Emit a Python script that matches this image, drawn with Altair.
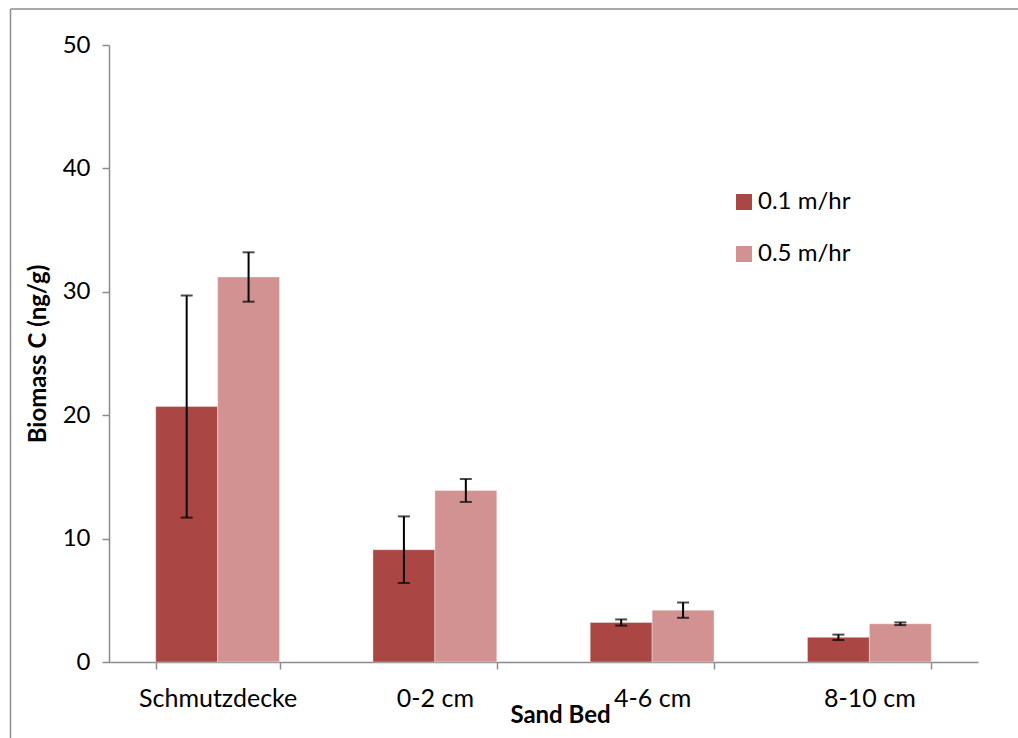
import altair as alt
import pandas as pd

categories = ["Schmutzdecke", "0-2 cm", "4-6 cm", "8-10 cm"]
series = ["0.1 m/hr", "0.5 m/hr"]
values_01 = [20.7, 9.1, 3.2, 2.0]
errors_01 = [9.0, 2.7, 0.25, 0.22]
values_05 = [31.2, 13.9, 4.2, 3.1]
errors_05 = [2.0, 0.93, 0.62, 0.11]
colors = ["#AA4644", "#D39292"]

rows = []
for i, c in enumerate(categories):
    for s, v, e in ((series[0], values_01[i], errors_01[i]), (series[1], values_05[i], errors_05[i])):
        rows.append({"bed": c, "rate": s, "value": v, "lo": v - e, "hi": v + e})
df = pd.DataFrame(rows)

FONT = "Lato"
AX = "#8c8c8c"
FS = 24
TS = 24

x = alt.X("bed:N", sort=categories, title="Sand Bed",
          scale=alt.Scale(paddingInner=0.43, paddingOuter=0.215),
          axis=alt.Axis(labelAngle=0, tickBand="extent", labelFontSize=25, labelPadding=17,
                        labelColor="#000000", titleFontSize=TS, titleFontWeight="bold",
                        titleX=451, titleY=60, titleBaseline="alphabetic", titleColor="#000000"))
xo = alt.XOffset("rate:N", sort=series, scale=alt.Scale(paddingInner=0, paddingOuter=0))
y_scale = alt.Scale(domain=[0, 50], nice=False)

base = alt.Chart(df)

bars = base.mark_bar(stroke="#ffffff", strokeWidth=0.6, strokeOpacity=0.6).encode(
    x=x,
    xOffset=xo,
    y=alt.Y("value:Q", scale=y_scale, title="Biomass C (ng/g)",
            axis=alt.Axis(values=[0, 10, 20, 30, 40, 50], grid=False, labelFontSize=FS,
                          labelColor="#000000", labelPadding=12, titleFontSize=TS,
                          titleFontWeight="bold", titleColor="#000000", titleX=-71,
                          titleY=308.5, titleBaseline="middle", titleAlign="center")),
    color=alt.Color("rate:N", sort=series, scale=alt.Scale(domain=series, range=colors),
                    legend=alt.Legend(title=None, orient="none", legendX=623, legendY=145,
                                      symbolType="square", symbolSize=256, symbolStrokeWidth=0,
                                      labelFontSize=FS, labelColor="#000000", rowPadding=28,
                                      labelOffset=2)),
)

err = base.mark_rule(color="#000000", strokeWidth=2).encode(
    x=alt.X("bed:N", sort=categories), xOffset=xo,
    y=alt.Y("lo:Q", scale=y_scale), y2="hi:Q",
)
cap_lo = base.mark_tick(color="#000000", thickness=2, size=12).encode(
    x=alt.X("bed:N", sort=categories), xOffset=xo, y=alt.Y("lo:Q", scale=y_scale),
)
cap_hi = base.mark_tick(color="#000000", thickness=2, size=12).encode(
    x=alt.X("bed:N", sort=categories), xOffset=xo, y=alt.Y("hi:Q", scale=y_scale),
)

frame_left = alt.Chart(pd.DataFrame({"a": [0]})).mark_rule(color=AX, strokeWidth=1.5).encode(
    x=alt.value(-98.5), y=alt.value(-36), y2=alt.value(720))
frame_top = alt.Chart(pd.DataFrame({"a": [0]})).mark_rule(color=AX, strokeWidth=1.5).encode(
    x=alt.value(-98.5), x2=alt.value(930), y=alt.value(-36))

chart = alt.layer(bars, err, cap_lo, cap_hi, frame_left, frame_top).properties(
    width=869, height=617,
    background="#ffffff",
    autosize=alt.AutoSizeParams(type="none"),
    padding={"left": 109, "top": 45, "right": 40, "bottom": 76},
).configure_view(stroke="transparent", strokeWidth=0).configure_axis(
    domainColor=AX, domainWidth=1.5, tickColor=AX, tickWidth=1.5, tickSize=7,
    labelFont=FONT, titleFont=FONT,
).configure_legend(labelFont=FONT, padding=0)

chart.save("out.html", embed_options={"renderer": "svg", "actions": False})
